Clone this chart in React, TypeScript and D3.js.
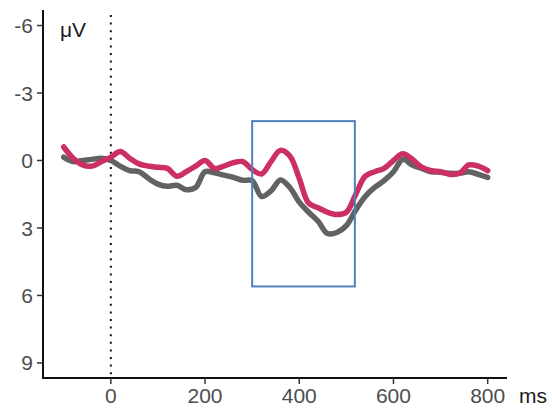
import React from "react";
import * as d3 from "d3";

const times: number[] = [
  -100, -80, -60, -40, -20, 0, 20, 40, 60, 80, 100, 120, 140, 160, 180, 200,
  220, 240, 260, 280, 300, 320, 340, 360, 380, 400, 420, 440, 460, 480, 500,
  520, 540, 560, 580, 600, 620, 640, 660, 680, 700, 720, 740, 760, 780, 800,
];

const pinkSeries: number[] = [
  -0.6, -0.1, 0.2, 0.25, 0.05, -0.15, -0.4, -0.1, 0.15, 0.25, 0.3, 0.35, 0.7,
  0.5, 0.25, 0.0, 0.35, 0.25, 0.1, 0.05, 0.4, 0.6, 0.05, -0.45, -0.2, 0.8, 1.9,
  2.1, 2.3, 2.4, 2.3, 1.5, 0.7, 0.5, 0.35, 0.0, -0.3, -0.05, 0.3, 0.45, 0.5,
  0.62, 0.57, 0.2, 0.25, 0.45,
];

const greySeries: number[] = [
  -0.15, 0.05, 0.0, -0.05, -0.1, 0.0, 0.25, 0.45, 0.5, 0.8, 1.05, 1.15, 1.1,
  1.3, 1.2, 0.5, 0.55, 0.65, 0.75, 0.88, 0.9, 1.6, 1.35, 0.87, 1.2, 1.85, 2.3,
  2.7, 3.25, 3.2, 2.9, 2.2, 1.6, 1.2, 0.9, 0.5, -0.05, 0.2, 0.35, 0.5, 0.52,
  0.57, 0.57, 0.5, 0.62, 0.75,
];

const xTicks: number[] = [0, 200, 400, 600, 800];
const yTicks: number[] = [-6, -3, 0, 3, 6, 9];
const windowMs: number[] = [300, 518];
const windowUv: number[] = [-1.75, 5.6];

export default function App() {
  const W = 552;
  const H = 408;
  const x = d3.scaleLinear().domain([-144, 841]).range([43, 507]);
  const y = d3.scaleLinear().domain([-6.69, 9.67]).range([10, 378]);

  const line = d3
    .line<number>()
    .x((_, i) => x(times[i]))
    .y((d) => y(d))
    .curve(d3.curveCatmullRom.alpha(0.5));

  const font = "'Liberation Sans', Arial, sans-serif";
  const tickColor = "#4d4d4d";

  return (
    <svg
      width={W}
      height={H}
      style={{ position: "absolute", left: 0, top: 0, background: "#fff" }}
    >
      <line
        x1={x(0)}
        x2={x(0)}
        y1={15}
        y2={378}
        stroke="#111"
        strokeWidth={2}
        strokeDasharray="2 5.6"
      />
      <path
        d={line(greySeries) || ""}
        fill="none"
        stroke="#626262"
        strokeWidth={5.5}
        strokeLinejoin="round"
        strokeLinecap="round"
      />
      <path
        d={line(pinkSeries) || ""}
        fill="none"
        stroke="#cc2f63"
        strokeWidth={5.5}
        strokeLinejoin="round"
        strokeLinecap="round"
      />
      <rect
        x={x(windowMs[0])}
        y={y(windowUv[0])}
        width={x(windowMs[1]) - x(windowMs[0])}
        height={y(windowUv[1]) - y(windowUv[0])}
        fill="none"
        stroke="#4f81bd"
        strokeWidth={2}
      />
      <line x1={43} x2={43} y1={10} y2={379} stroke="#111" strokeWidth={2} />
      <line x1={42} x2={507} y1={378} y2={378} stroke="#111" strokeWidth={2} />
      {yTicks.map((t) => (
        <g key={"y" + t}>
          <line x1={37} x2={43} y1={y(t)} y2={y(t)} stroke="#333" strokeWidth={1.5} />
          <text
            x={33}
            y={y(t)}
            dy="0.36em"
            textAnchor="end"
            fontFamily={font}
            fontSize={21}
            fill={tickColor}
          >
            {t}
          </text>
        </g>
      ))}
      {xTicks.map((t) => (
        <g key={"x" + t}>
          <line x1={x(t)} x2={x(t)} y1={378} y2={384} stroke="#333" strokeWidth={1.5} />
          <text
            x={x(t)}
            y={403}
            textAnchor="middle"
            fontFamily={font}
            fontSize={21}
            fill={tickColor}
          >
            {t}
          </text>
        </g>
      ))}
      <text x={519} y={403} fontFamily={font} fontSize={21} fill="#1a1a1a">
        ms
      </text>
      <text x={60} y={37} fontFamily={font} fontSize={21} fill="#1a1a1a">
        μV
      </text>
    </svg>
  );
}
